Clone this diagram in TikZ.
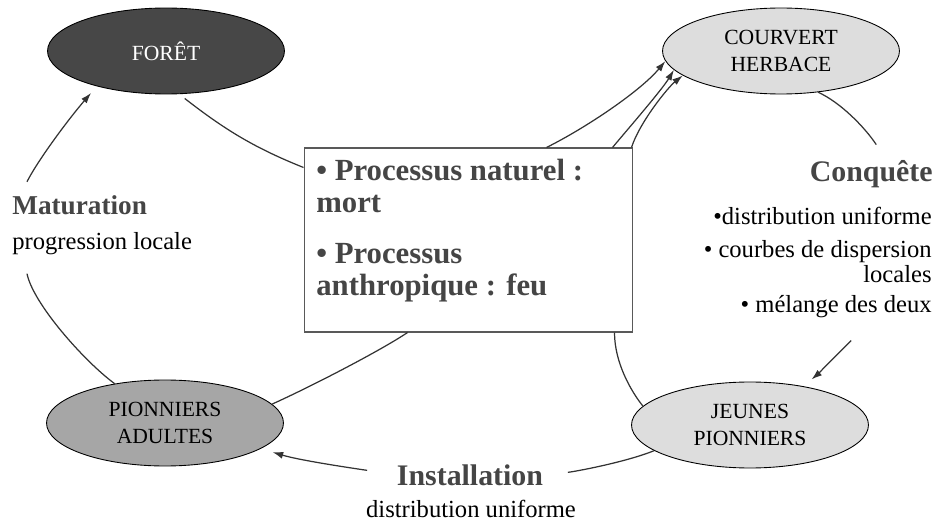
\documentclass[tikz,border=0pt]{standalone}
\usepackage{fontspec}
\setmainfont{Liberation Serif}
\usetikzlibrary{shapes.geometric,arrows.meta,calc}

\definecolor{gristexte}{HTML}{454545}
\definecolor{grisfonce}{HTML}{474747}
\definecolor{grismoyen}{HTML}{A6A6A6}
\definecolor{grisclair}{HTML}{DDDDDD}
\definecolor{trait}{HTML}{333333}

\begin{document}
\begin{tikzpicture}[x=0.02cm,y=-0.02cm,
  etat/.style={ellipse,draw=black,line width=0.5pt,minimum width=4.74cm,minimum height=1.72cm,inner sep=0pt,align=center,font=\fontsize{12.3}{15.4}\selectfont},
  lien/.style={draw=trait,line width=0.7pt},
  fleche/.style={lien,-{Latex[length=6pt,width=4pt]}},
  titre/.style={inner sep=0pt,text=gristexte,font=\fontsize{17}{18}\selectfont\bfseries},
  texte/.style={inner sep=0pt,font=\fontsize{14}{14}\selectfont}]

\useasboundingbox (0,0) rectangle (938,527);

% etats du cycle
\node[etat,fill=grisfonce,text=white] (foret) at (166,51) {FORÊT};
\node[etat,fill=grisclair] (herbe) at (781,51) {COURVERT\\HERBACE};
\node[etat,fill=grismoyen] (adultes) at (165,423) {PIONNIERS\\ADULTES};
\node[etat,fill=grisclair] (jeunes) at (750,425) {JEUNES\\PIONNIERS};

% perturbations
\node[draw=gray!70!black,line width=0.6pt,fill=white,minimum width=6.58cm,minimum height=3.68cm,inner sep=0pt] (box) at (468.5,240) {};
\node[titre,font=\fontsize{17.5}{18.1}\selectfont\bfseries,align=left,anchor=north west] (proc) at (316,159) {• Processus naturel :\\mort\\[10.8pt]• Processus\\anthropique : feu};

% etiquettes
\node[titre,font=\fontsize{15.5}{16}\selectfont\bfseries,anchor=base west] (mat) at (12,215) {Maturation};
\node[texte,anchor=base west] (matsub) at (12,250) {progression locale};
\node[titre,anchor=base] (inst) at (470,485) {Installation};
\node[texte,anchor=base] (instsub) at (471,518) {distribution uniforme};
\node[titre,anchor=base east] (conq) at (933,182) {Conquête};
\node[texte,anchor=base east] (c1) at (932,225) {•distribution uniforme};
\node[texte,anchor=base east] (c2) at (932,258) {• courbes de dispersion};
\node[texte,anchor=base east] (c3) at (932,283) {locales};
\node[texte,anchor=base east] (c4) at (932,313) {• mélange des deux};

\coordinate (inA) at ($(box.north west)+(0,20)$);
\coordinate (outA) at ($(box.north west)+(243,0)$);
\coordinate (outB) at ($(box.north west)+(309,0)$);
\coordinate (outC) at ($(box.north west)+(328,0)$);
\coordinate (inB) at ($(box.south west)+(104,0)$);
\coordinate (inC) at ($(box.south west)+(311,0)$);
\coordinate (mathaut) at ($(mat.north west)+(15,-14)$);
\coordinate (matbas) at ($(matsub.south west)+(15,18)$);
\coordinate (conqhaut) at ($(conq.north)+(5,-16)$);
\coordinate (melbas) at ($(c4.south)+(15,22)$);

% liens
\draw[lien,shorten <=4pt] (foret.-73) .. controls +(45,35) and +(-50,-20) .. (inA);
\draw[fleche] (outA) .. controls +(40,-20) and +(-25,30) .. (herbe.-175);
\draw[lien] (adultes.10) .. controls +(40,-18) and +(-25,17) .. (inB);
\draw[fleche] (outB) .. controls +(15,-18) and +(-12,20) .. (herbe.-170);
\draw[lien] (jeunes.170) .. controls +(-12,-15) and +(0,30) .. (inC);
\draw[fleche] (outC) .. controls +(8,-25) and +(-15,12) .. (herbe.-166);
\draw[lien] (herbe.-48) .. controls +(22,10) and +(-12,-18) .. (conqhaut);
\draw[fleche,shorten >=6pt] (melbas) .. controls +(-12,12) and +(12,-10) .. (jeunes.36);
\draw[lien,shorten >=14pt] (jeunes.-165) .. controls +(-30,12) and +(30,-3) .. (inst.east);
\draw[fleche,shorten <=17pt,shorten >=7pt] (inst.west) .. controls +(-40,-6) and +(40,12) .. (adultes.-15);
\draw[lien] (adultes.142) .. controls +(-30,-22) and +(6,30) .. (matbas);
\draw[fleche,shorten >=5pt] (mathaut) .. controls +(10,-20) and +(-30,35) .. (foret.-153);
\end{tikzpicture}
\end{document}
